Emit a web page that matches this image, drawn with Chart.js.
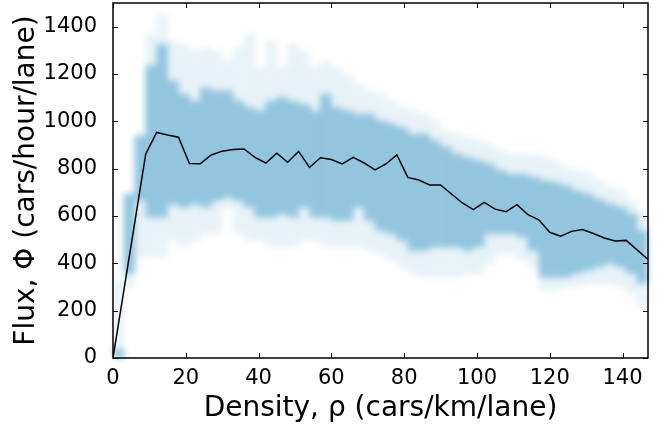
<!DOCTYPE html>
<html>
<head>
<meta charset="utf-8">
<script src="https://cdn.jsdelivr.net/npm/chart.js@4.4.1/dist/chart.umd.min.js"></script>
<style>
  html, body { margin: 0; padding: 0; background: #fff; }
  #box { width: 670px; height: 426px; position: relative; }
</style>
</head>
<body>
<div id="box"><canvas id="flux"></canvas></div>
<script>
// mean flux curve
const densite = [0, 9, 12, 15, 18, 21, 24, 27, 30, 33, 36, 39, 42, 45, 48, 51, 54, 57, 60, 63, 66, 69, 72,
  75, 78, 81, 84, 87, 90, 96, 99, 102, 105, 108, 111, 114, 117, 120, 123, 126, 129, 132, 135, 138, 141, 147];
const fluxMoyen = [0, 862, 953, 942, 933, 822, 821, 858, 874, 881, 883, 848, 824, 865, 827, 873, 805, 846, 839, 820, 848, 824, 795,
  820, 858, 763, 752, 731, 731, 655, 627, 658, 629, 618, 648, 606, 584, 531, 515, 535, 543, 526, 507, 494, 497, 416];

// histogram columns (bin centres, 3 cars/km wide)
const colonnes = [1.5, 4.5, 7.5, 10.5, 13.5, 16.5, 19.5, 22.5, 25.5, 28.5, 31.5, 34.5, 37.5, 40.5, 43.5, 46.5,
  49.5, 52.5, 55.5, 58.5, 61.5, 64.5, 67.5, 70.5, 73.5, 76.5, 79.5, 82.5, 85.5, 88.5, 91.5, 94.5,
  97.5, 100.5, 103.5, 106.5, 109.5, 112.5, 115.5, 118.5, 121.5, 124.5, 127.5, 130.5, 133.5, 136.5, 139.5, 142.5, 145.5];
const coeurBas = [0, 357, 665, 595, 595, 651, 637, 651, 637, 665, 679, 665, 637, 595, 595, 609,
  595, 637, 595, 595, 581, 581, 637, 581, 539, 525, 497, 455, 455, 469, 469, 469,
  455, 469, 525, 525, 525, 511, 455, 343, 343, 343, 357, 371, 385, 399, 385, 357, 315];
const coeurHaut = [35, 693, 939, 1234, 1325, 1171, 1114, 1086, 1142, 1128, 1128, 1086, 1058, 1044, 1086, 1100,
  1086, 1072, 1044, 1114, 1058, 1044, 1030, 1030, 1002, 988, 974, 946, 946, 918, 890, 862,
  848, 834, 820, 792, 777, 777, 764, 750, 742, 728, 707, 693, 672, 651, 637, 609, 539];
const fangeBas = [0, 300, 427, 427, 427, 497, 469, 497, 525, 525, 637, 525, 497, 497, 469, 469,
  469, 497, 497, 469, 469, 469, 469, 455, 441, 413, 385, 357, 343, 343, 343, 343,
  357, 357, 399, 441, 441, 413, 385, 286, 286, 300, 300, 314, 314, 314, 300, 272, 216];
const fangeHaut = [330, 693, 939, 1367, 1451, 1339, 1325, 1297, 1311, 1297, 1255, 1311, 1367, 1227, 1339, 1227,
  1325, 1297, 1227, 1255, 1227, 1199, 1157, 1128, 1114, 1086, 1058, 1044, 1030, 1002, 960, 946,
  932, 918, 904, 876, 862, 862, 862, 848, 834, 806, 792, 777, 750, 721, 707, 665, 623];

const bleu = 'rgb(146,197,222)';
const police = { family: 'DejaVu Sans', size: 21 };

const colonnesDe = (bas, haut) => colonnes.map((x, i) => ({ x, y: [bas[i], haut[i]] }));

// soften the histogram before the curve is drawn on top
const flou = {
  id: 'flou',
  beforeDatasetDraw(chart, args) {
    if (args.index !== 0) return;
    const { ctx, chartArea: a } = chart;
    const r = chart.currentDevicePixelRatio;
    const sx = Math.round(a.left * r), sy = Math.round(a.top * r);
    const w = Math.round((a.right - a.left) * r), h = Math.round((a.bottom - a.top) * r);
    const tmp = document.createElement('canvas');
    tmp.width = w; tmp.height = h;
    tmp.getContext('2d').drawImage(ctx.canvas, sx, sy, w, h, 0, 0, w, h);
    ctx.save();
    ctx.setTransform(1, 0, 0, 1, 0, 0);
    ctx.clearRect(sx, sy, w, h);
    ctx.filter = 'blur(3px)';
    ctx.drawImage(tmp, sx, sy);
    ctx.restore();
  },
};

// matplotlib-like frame with inward ticks on all four sides
const cadre = {
  id: 'cadre',
  afterDraw(chart) {
    const { ctx, chartArea: a, scales: { x, y } } = chart;
    ctx.save();
    ctx.strokeStyle = '#000';
    ctx.lineWidth = 1;
    ctx.beginPath();
    x.ticks.forEach((t) => {
      const px = Math.round(x.getPixelForValue(t.value)) + 0.5;
      ctx.moveTo(px, a.bottom); ctx.lineTo(px, a.bottom - 5);
      ctx.moveTo(px, a.top); ctx.lineTo(px, a.top + 5);
    });
    y.ticks.forEach((t) => {
      const py = Math.round(y.getPixelForValue(t.value)) + 0.5;
      ctx.moveTo(a.left, py); ctx.lineTo(a.left + 5, py);
      ctx.moveTo(a.right, py); ctx.lineTo(a.right - 5, py);
    });
    ctx.stroke();
    ctx.lineWidth = 1.5;
    ctx.strokeRect(a.left, a.top, a.right - a.left, a.bottom - a.top);
    ctx.restore();
  },
};

const data = {
  datasets: [{
    type: 'line',
    label: 'Flux moyen',
    data: densite.map((x, i) => ({ x, y: fluxMoyen[i] })),
    borderColor: '#000',
    borderWidth: 1.5,
    pointRadius: 0,
    tension: 0,
    fill: false,
  },
  {
    type: 'bar',
    label: 'coeur',
    data: colonnesDe(coeurBas, coeurHaut),
    backgroundColor: bleu,
    borderWidth: 0,
    grouped: false,
    barPercentage: 1,
    categoryPercentage: 1,
  },
  {
    type: 'bar',
    label: 'frange',
    data: colonnesDe(fangeBas, fangeHaut),
    backgroundColor: 'rgba(146,197,222,0.2)',
    borderWidth: 0,
    grouped: false,
    barPercentage: 1,
    categoryPercentage: 1,
  }],
};

const options = {
  responsive: true,
  maintainAspectRatio: false,
  animation: false,
  layout: { padding: { top: 3, right: 22, left: 0, bottom: 0 } },
  plugins: { legend: { display: false }, tooltip: { enabled: false } },
  scales: {
    x: {
      type: 'linear',
      offset: false,
      min: 0,
      max: 147,
      grid: { display: false },
      border: { display: false },
      ticks: { stepSize: 20, includeBounds: false, color: '#000', font: police, padding: 0, maxRotation: 0 },
      title: {
        display: true,
        text: 'Density, ρ (cars/km/lane)',
        color: '#000',
        font: { family: 'DejaVu Sans', size: 28 },
        padding: { top: 2, bottom: 0 },
      },
      afterFit: (s) => { s.height = 68; s.paddingLeft = 0; s.paddingRight = 0; },
    },
    y: {
      min: 0,
      max: 1500,
      grid: { display: false },
      border: { display: false },
      ticks: {
        stepSize: 200,
        includeBounds: false,
        color: '#000',
        font: police,
        padding: 8,
        callback: (v) => String(v),
      },
      title: {
        display: true,
        text: 'Flux, Φ (cars/hour/lane)',
        color: '#000',
        font: { family: 'DejaVu Sans', size: 28 },
        padding: { top: 10, bottom: 0 },
      },
      afterFit: (s) => { s.width = 113; s.paddingTop = 0; s.paddingBottom = 0; },
    },
  },
};

new Chart(document.getElementById('flux'), { type: 'bar', data, options, plugins: [flou, cadre] });
</script>
</body>
</html>
